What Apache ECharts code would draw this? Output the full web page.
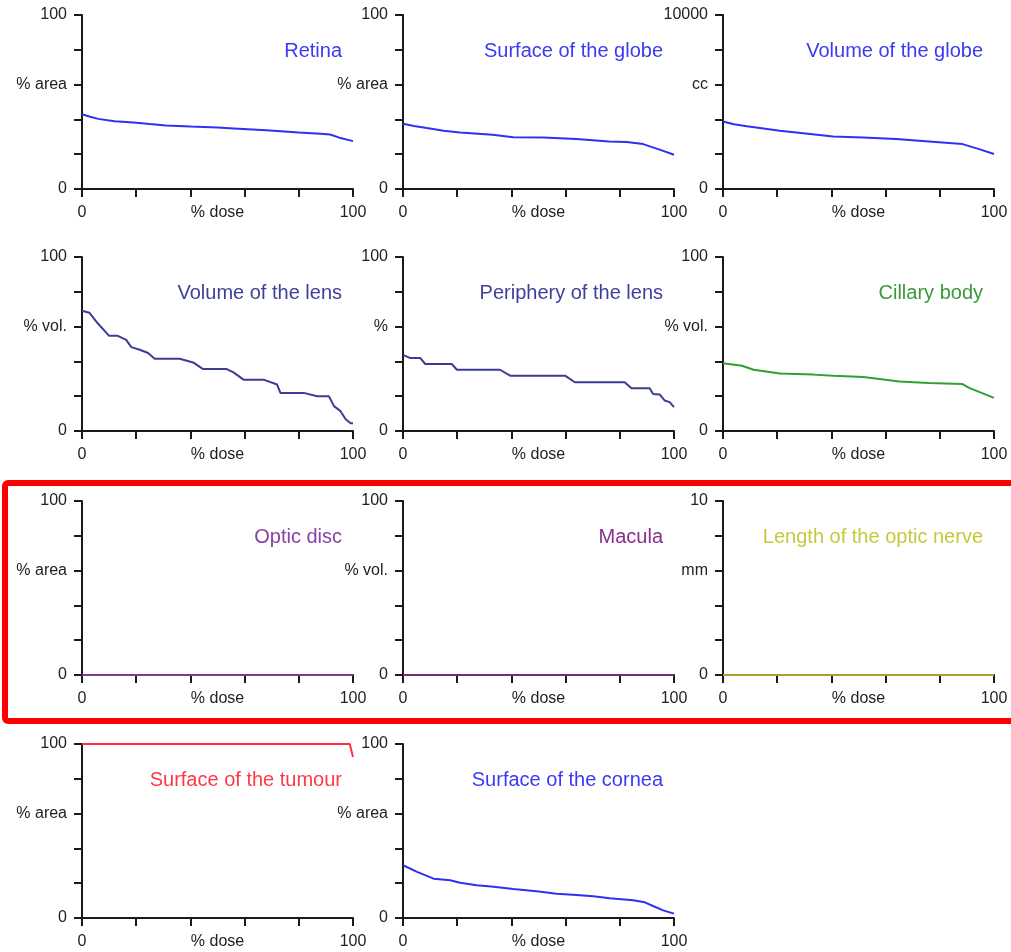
<!DOCTYPE html>
<html>
<head>
<meta charset="utf-8">
<script src="https://cdn.jsdelivr.net/npm/echarts@6/dist/echarts.min.js"></script>
<style>
  html, body { margin: 0; padding: 0; background: #fff; }
  #chart { width: 1011px; height: 952px; }
</style>
</head>
<body>
<div id="chart"></div>
<script>
// Dose-volume / dose-area curves per ocular structure: [% dose, value]
const retina = [[0,43],[3,41.5],[6,40.3],[12,39],[19,38.2],[25,37.3],[31,36.5],[40,35.9],[50,35.3],[56,34.8],[68,33.7],[80,32.5],[88,31.8],[91.5,31.3],[95,29.5],[100,27.5]];
const globeSurface = [[0,37.5],[4,36.2],[8.8,35],[15,33.5],[21,32.5],[33,31.2],[40.7,29.8],[51.8,29.6],[64,28.7],[76,27.3],[82.5,27],[88.6,25.8],[94.7,22.6],[100,19.7]];
const globeVolume = [[0,3880],[4,3720],[8.8,3600],[21,3350],[33,3150],[40.6,3020],[51.6,2960],[63.9,2870],[76,2730],[88.4,2580],[94.5,2290],[100,2010]];
const lensVolume = [[0,69.1],[2.7,68],[5.8,61.9],[10,54.7],[13.2,54.7],[16.3,52.4],[18.2,48.2],[21.3,46.7],[24.4,44.8],[26.8,41.5],[36,41.5],[41,39.4],[44.7,35.6],[53.4,35.6],[55.9,33.7],[59.6,29.5],[67,29.5],[72,26.7],[73.2,21.9],[81.8,21.9],[86.8,20],[91.1,20],[93,14.3],[95.4,11.4],[97.3,6.7],[99.1,4.4],[100,4.4]];
const lensPeriphery = [[0,43.8],[2.7,41.9],[6.4,41.9],[8.2,38.5],[18,38.5],[19.9,35.2],[35.8,35.2],[39.5,31.8],[59.8,31.8],[63.4,28],[81.8,28],[84.3,24.6],[91,24.6],[92.3,21.3],[94.7,21],[96.6,17.5],[98.4,16.6],[100,13.7]];
const ciliaryBody = [[0,39],[7,37.5],[11.3,35.2],[21,33],[33.3,32.4],[40.6,31.8],[51.7,31],[57.8,29.9],[65,28.4],[76,27.6],[88.4,27],[90.8,24.8],[100,19]];
const opticDisc = [[0,0],[100,0]];
const macula = [[0,0],[100,0]];
const opticNerve = [[0,0],[100,0]];
const tumourSurface = [[0,100],[98.8,100],[100,92.5]];
const corneaSurface = [[0,30.3],[5.2,26.5],[11.3,22.6],[17.4,21.7],[21.1,20.3],[27.2,18.8],[33.4,17.9],[40.7,16.7],[49.3,15.4],[56.7,14],[64,13.2],[70.2,12.5],[76.3,11.3],[84.9,10.2],[89.2,9],[92.3,6.9],[96,4.4],[100,2.5]];

const panelTitles = ['Retina','Surface of the globe','Volume of the globe','Volume of the lens','Periphery of the lens','Cillary body','Optic disc','Macula','Length of the optic nerve','Surface of the tumour','Surface of the cornea'];
const yUnits = ['% area','% area','cc','% vol.','%','% vol.','% area','% vol.','mm','% area','% area'];
const yMax = [100,100,10000,100,100,100,100,100,10,100,100];
const xTicks = { min: 0, max: 100, step: 20, name: '% dose' };
const curves = [retina, globeSurface, globeVolume, lensVolume, lensPeriphery, ciliaryBody, opticDisc, macula, opticNerve, tumourSurface, corneaSurface];

// Styling per panel
const lineColors = ['#3030f0','#3030f0','#3030f0','#3c3c96','#3c3c96','#30a030','#803a90','#7a2a7a','#a8a030','#ff3040','#3030f0'];
const titleColors = ['#3b3bf2','#3b3bf2','#3b3bf2','#40409c','#40409c','#3a9a3a','#8844a4','#8a2e8a','#c8c83c','#ff3848','#3b3bf2'];

const colLeft = [82, 403, 723];
const rowTop = [15, 257, 501, 744];
const plotW = 271, plotH = 174;
const FONT = '"Liberation Sans", Arial, sans-serif';

const grids = [], xAxes = [], yAxes = [], series = [], graphics = [];

curves.forEach((data, i) => {
  const col = i % 3, row = Math.floor(i / 3);
  const left = colLeft[col], top = rowTop[row];
  const max = yMax[i], unit = yUnits[i];
  grids.push({ left: left, top: top, width: plotW, height: plotH, containLabel: false });

  const axisLine = { show: true, onZero: false, lineStyle: { color: '#1a1a1a', width: 2 } };
  const axisTick = { show: true, inside: false, length: 8, lineStyle: { color: '#1a1a1a', width: 2 } };

  xAxes.push({
    gridIndex: i, type: 'value', min: xTicks.min, max: xTicks.max, interval: xTicks.step,
    axisLine: axisLine, axisTick: axisTick, splitLine: { show: false },
    axisLabel: {
      margin: 16, fontSize: 16, color: '#222', fontFamily: FONT,
      showMinLabel: true, showMaxLabel: true,
      formatter: v => (v === xTicks.min || v === xTicks.max) ? String(v) : ''
    },
    name: xTicks.name, nameLocation: 'middle', nameGap: 16, nameMoveOverlap: false,
    nameTextStyle: { fontSize: 16, color: '#222', fontFamily: FONT, verticalAlign: 'top' }
  });

  yAxes.push({
    gridIndex: i, type: 'value', min: 0, max: max, interval: max / 5,
    axisLine: axisLine, axisTick: axisTick, splitLine: { show: false },
    axisLabel: {
      margin: 15, fontSize: 16, color: '#222', fontFamily: FONT,
      showMinLabel: true, showMaxLabel: true,
      formatter: v => {
        if (v === max) return String(max);
        if (v === 0) return '0';
        if (Math.abs(v - 0.6 * max) < 1e-9) return unit;
        return '';
      }
    }
  });

  series.push({
    type: 'line', xAxisIndex: i, yAxisIndex: i, data: data,
    showSymbol: false, symbol: 'none', smooth: false, z: 5,
    lineStyle: { color: lineColors[i], width: 2 },
    clip: false, silent: true, animation: false
  });

  graphics.push({
    type: 'text', x: left + 260, y: top + 36, z: 10,
    style: {
      text: panelTitles[i], fill: titleColors[i],
      font: '20px ' + FONT, textAlign: 'right', textVerticalAlign: 'middle'
    }
  });
});

// Highlight box around the third row
graphics.push({
  type: 'rect', z: 20,
  shape: { x: 5, y: 483, width: 1030, height: 238, r: 3 },
  style: { fill: 'none', stroke: '#ff0000', lineWidth: 6 }
});

const chart = echarts.init(document.getElementById('chart'), null, { renderer: 'canvas' });
chart.setOption({
  backgroundColor: '#ffffff',
  animation: false,
  grid: grids,
  xAxis: xAxes,
  yAxis: yAxes,
  series: series,
  graphic: graphics
});
</script>
</body>
</html>
